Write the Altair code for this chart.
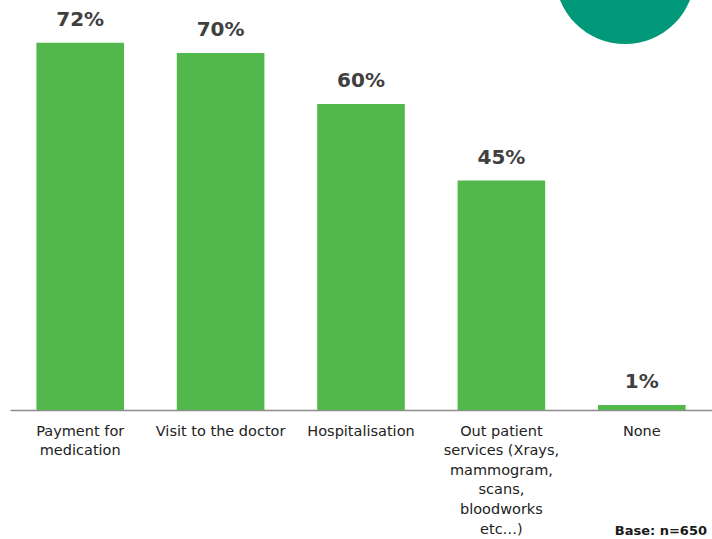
import altair as alt
import pandas as pd

categories = ["Payment for|medication", "Visit to the doctor", "Hospitalisation",
              "Out patient|services (Xrays,|mammogram,|scans,|bloodworks|etc…)", "None"]
values = [72, 70, 60, 45, 1]
labels = ["72%", "70%", "60%", "45%", "1%"]
base_note = "Base: n=650"

df = pd.DataFrame({"cat": categories, "val": values, "lab": labels})

FONT = "DejaVu Sans"
W, H = 702, 408

x = alt.X("cat:N", sort=categories,
          scale=alt.Scale(paddingInner=0.376, paddingOuter=0.188),
          axis=alt.Axis(title=None, labelAngle=0, ticks=False, labelPadding=14,
                        labelExpr="split(datum.label, '|')", labelFont=FONT,
                        labelFontSize=14.5, labelColor="#222222", labelLineHeight=19.6,
                        domainColor="#8c8c8c", domainWidth=1.5, labelLimit=200))
y = alt.Y("val:Q", scale=alt.Scale(domain=[0, 80], nice=False), axis=None)

bars = alt.Chart(df).mark_bar(color="#52b84c").encode(x=x, y=y)
text = alt.Chart(df).mark_text(font=FONT, fontSize=20, fontWeight="bold",
                               color="#404040", baseline="bottom", dy=-13).encode(
    x=alt.X("cat:N", sort=categories), y="val:Q", text="lab:N")

circle = alt.Chart(pd.DataFrame({"a": [1]})).mark_circle(
    color="#009878", opacity=1, size=19600).encode(
    x=alt.value(615), y=alt.value(-28))

note = alt.Chart(pd.DataFrame({"t": [base_note]})).mark_text(
    font=FONT, fontSize=13, fontWeight="bold", color="#1a1a1a", align="right",
    baseline="middle").encode(x=alt.value(697), y=alt.value(529), text="t:N")

chart = alt.layer(bars, text, circle, note).properties(
    width=W, height=H,
    autosize=alt.AutoSizeParams(type="none"),
    padding={"left": 10, "top": 2, "right": 0, "bottom": 129},
).configure_view(stroke=None)

chart.save("out.html", embed_options={"renderer": "svg", "actions": False})
